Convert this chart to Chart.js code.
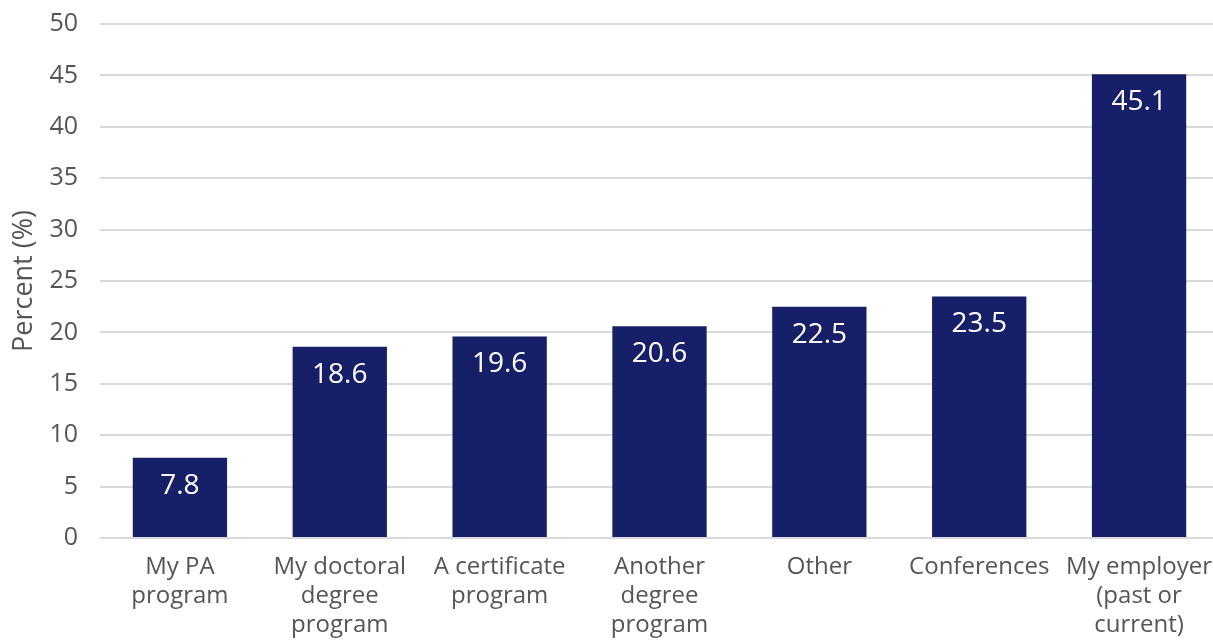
<!DOCTYPE html>
<html>
<head>
<meta charset="utf-8">
<script src="https://cdn.jsdelivr.net/npm/chart.js@4"></script>
<style>
  html, body { margin: 0; padding: 0; background: #fff; overflow: hidden; }
  .wrap { width: 1219px; height: 640px; }
</style>
</head>
<body>
<div class="wrap"><canvas id="chart"></canvas></div>
<script>
// data
const categories = [
    ['My PA', 'program'],
    ['My doctoral', 'degree', 'program'],
    ['A certificate', 'program'],
    ['Another', 'degree', 'program'],
    'Other',
    'Conferences',
    ['My employer', '(past or', 'current)']
];
const percentValues = [7.8, 18.6, 19.6, 20.6, 22.5, 23.5, 45.1];
const yTicks = [0, 5, 10, 15, 20, 25, 30, 35, 40, 45, 50];

const barColor = '#171f69';
const textGray = '#555555';
const fontFamily = "'Open Sans', 'Noto Sans', sans-serif";

// white value labels just under the top of each bar
const valueLabels = {
    id: 'valueLabels',
    afterDatasetsDraw(chart) {
        const ctx = chart.ctx;
        const meta = chart.getDatasetMeta(0);
        ctx.save();
        ctx.fillStyle = '#ffffff';
        ctx.font = '28px ' + fontFamily;
        ctx.textAlign = 'center';
        ctx.textBaseline = 'middle';
        meta.data.forEach((bar, i) => {
            ctx.fillText(percentValues[i].toFixed(1), bar.x, bar.y + 28);
        });
        ctx.restore();
    }
};

new Chart(document.getElementById('chart'), {
    type: 'bar',
    data: {
        labels: categories,
        datasets: [{
            data: percentValues,
            backgroundColor: barColor,
            borderWidth: 0,
            barPercentage: 0.59,
            categoryPercentage: 1
        }]
    },
    options: {
        responsive: true,
        maintainAspectRatio: false,
        animation: false,
        layout: { padding: { top: 24, right: 0, bottom: 0, left: 0 } },
        plugins: { legend: { display: false }, tooltip: { enabled: false } },
        scales: {
            x: {
                // labels fit inside their own columns, no extra side padding
                afterFit: axis => { axis.paddingLeft = 0; axis.paddingRight = 0; axis.height = 102; },
                grid: { display: false, drawTicks: false },
                border: { display: false },
                ticks: {
                    color: textGray,
                    font: { family: fontFamily, size: 24, lineHeight: 1.2 },
                    padding: 15,
                    maxRotation: 0,
                    autoSkip: false
                }
            },
            y: {
                min: 0,
                max: 50,
                afterBuildTicks: axis => { axis.ticks = yTicks.map(v => ({ value: v })); },
                afterFit: axis => { axis.paddingTop = 0; axis.paddingBottom = 0; axis.width = 100; },
                grid: { color: '#d9d9d9', lineWidth: 2, drawTicks: false },
                border: { display: false },
                ticks: {
                    color: textGray,
                    font: { family: fontFamily, size: 25 },
                    padding: 22
                },
                title: {
                    display: true,
                    text: 'Percent (%)',
                    color: textGray,
                    font: { family: fontFamily, size: 27 },
                    padding: { top: 8, bottom: 8 }
                }
            }
        }
    },
    plugins: [valueLabels]
});
</script>
</body>
</html>
